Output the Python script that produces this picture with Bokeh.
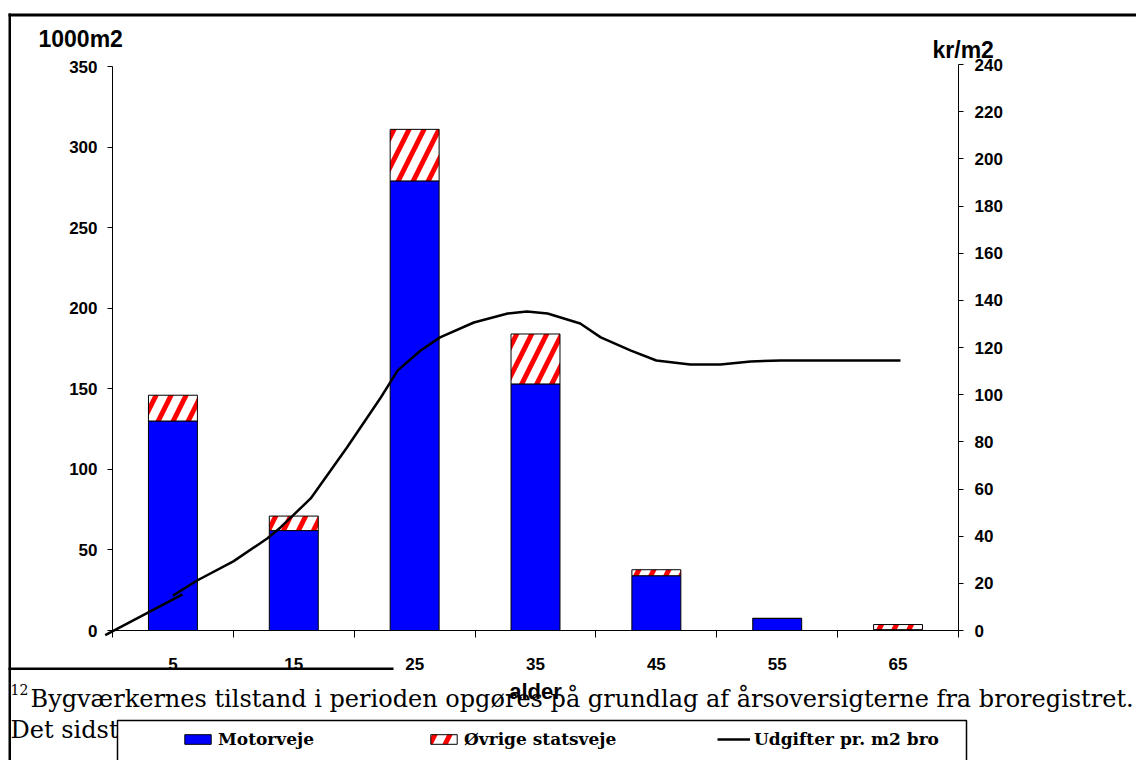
from bokeh.plotting import figure
from bokeh.models import (Range1d, LinearAxis, FixedTicker, Label, BoxAnnotation,
                          Legend, LegendItem, ColumnDataSource)
from bokeh.embed import file_html
from bokeh.resources import INLINE

# ---------------- data ----------------
ages = [5, 15, 25, 35, 45, 55, 65]
age_boundaries = [0, 10, 20, 30, 40, 50, 60, 70]
motorveje = [130, 62, 279, 153, 34, 7.5, 0.5]
ovrige_statsveje = [16, 9, 32, 31, 3.7, 0, 3.2]

left_ticks = [0, 50, 100, 150, 200, 250, 300, 350]
right_ticks = [0, 20, 40, 60, 80, 100, 120, 140, 160, 180, 200, 220, 240]

# cost line (kr/m2), drawn as two overlapping pieces as in the original
line_age_a = [-0.6, 5.8]
line_cost_a = [-2.0, 15.3]
line_age_b = [5.0, 7.0, 10.0, 12.8, 13.9, 16.4, 19.4, 22.2, 23.6, 25.5, 27.1, 29.9,
              32.7, 34.3, 36.0, 38.7, 40.4, 42.9, 45.0, 47.8, 50.3, 52.8, 55.3, 65.2]
line_cost_b = [14.8, 21.2, 29.3, 39.0, 43.7, 56.0, 77.6, 98.8, 110.3, 118.7, 124.3, 130.6,
               134.4, 135.3, 134.4, 130.2, 124.3, 118.7, 114.5, 112.8, 112.8, 114.1, 114.5, 114.5]

series_names = ["Motorveje", "Øvrige statsveje", "Udgifter pr. m2 bro"]
footnote_1 = "Bygværkernes tilstand i perioden opgøres på grundlag af årsoversigterne fra broregistret."
footnote_2 = "Det sidste"

# ---------------- layout ----------------
W, H = 1136, 760
# chart area in canvas px: x 112..958, y 66 (350) .. 630 (0); right axis 240 at y 64
AX_L, AX_R, AX_B = 112, 958, 630
x_per_px = 70 / (AX_R - AX_L)
yl_per_px = 350 / (AX_B - 66)
yr_per_px = 240 / (AX_B - 64)

x_range = Range1d(-AX_L * x_per_px, 70 + (W - AX_R) * x_per_px)
y_range = Range1d(-(H - AX_B) * yl_per_px, AX_B * yl_per_px)

p = figure(width=W, height=H, output_backend="svg", toolbar_location=None,
           x_range=x_range, y_range=y_range,
           min_border=0, min_border_left=0, min_border_right=0,
           min_border_top=0, min_border_bottom=0,
           x_axis_location=None, y_axis_location=None)
p.outline_line_color = None
p.xgrid.visible = False
p.ygrid.visible = False
p.background_fill_color = "white"
p.border_fill_color = "white"
p.extra_y_ranges = {"kr": Range1d(-(H - AX_B) * yr_per_px, AX_B * yr_per_px)}

tick_font = dict(major_label_text_font="Liberation Sans", major_label_text_font_style="bold",
                 major_label_text_font_size="17px", major_label_text_color="black")

yl = LinearAxis(ticker=FixedTicker(ticks=left_ticks), fixed_location=0, bounds=(0, 350),
                major_tick_out=5, major_tick_in=0, minor_tick_out=0, minor_tick_in=0,
                major_label_standoff=10, axis_line_color="black",
                major_tick_line_color="black", **tick_font)
p.add_layout(yl, "left")

yr = LinearAxis(y_range_name="kr", ticker=FixedTicker(ticks=right_ticks), fixed_location=70,
                bounds=(0, 240), major_tick_out=5, major_tick_in=0, minor_tick_out=0,
                minor_tick_in=0, major_label_standoff=11, axis_line_color="black",
                major_tick_line_color="black", **tick_font)
p.add_layout(yr, "right")

xa = LinearAxis(ticker=FixedTicker(ticks=ages, minor_ticks=age_boundaries), fixed_location=0,
                bounds=(0, 70), major_tick_out=0, major_tick_in=0, minor_tick_out=7,
                minor_tick_in=0, major_label_standoff=20, axis_line_color="black",
                minor_tick_line_color="black", axis_label="alder",
                axis_label_text_font="Liberation Sans", axis_label_text_font_style="bold",
                axis_label_text_font_size="22px", axis_label_standoff=6,
                axis_label_text_color="black", **tick_font)
p.add_layout(xa, "below")

# ---------------- bars ----------------
totals = [m + o for m, o in zip(motorveje, ovrige_statsveje)]
src = ColumnDataSource(dict(age=ages, motor=motorveje, total=totals))

r_motor = p.vbar(x="age", bottom=0, top="motor", width=4.05, source=src,
                 fill_color="#0000FF", line_color="black", line_width=1)
r_ovr = p.vbar(x="age", bottom="motor", top="total", width=4.05, source=src,
               fill_color="white", line_color="black", line_width=1,
               hatch_pattern="/", hatch_color="#FF0000", hatch_scale=30, hatch_weight=5)

r_line = p.multi_line(xs=[line_age_a, line_age_b], ys=[line_cost_a, line_cost_b],
                      y_range_name="kr", line_color="black", line_width=2.5)

# ---------------- texts (canvas px -> frame screen units) ----------------
def sx(cx):
    return cx

def sy(cy):
    return H - cy

def lab(text, cx, cy, size, font="Liberation Sans", style="bold", align="left"):
    p.add_layout(Label(x=sx(cx), y=sy(cy), x_units="screen", y_units="screen", text=text,
                       text_font=font, text_font_style=style, text_font_size=size,
                       text_align=align, text_baseline="alphabetic", text_color="black"))

lab("1000m2", 38, 38.5, "23px")
lab("kr/m2", 932, 49, "23px")

lab("12", 10, 689, "14px", font="DejaVu Serif", style="normal")
lab(footnote_1, 30, 698, "24px", font="DejaVu Serif", style="normal")
lab(footnote_2, 10, 729, "24px", font="DejaVu Serif", style="normal")

def box(l, r, t, b, fill="black", line=None, lw=1):
    p.add_layout(BoxAnnotation(left=sx(l), right=sx(r), top=sy(t), bottom=sy(b),
                               left_units="screen", right_units="screen",
                               top_units="screen", bottom_units="screen",
                               fill_color=fill, fill_alpha=1, line_color=line,
                               line_alpha=1, line_width=lw))

# page frame lines
box(8, 1150, 13, 16)
box(8, 10.5, 13, 780)
box(8, 393, 667, 669.5)

# legend box
box(117, 966, 720, 800, fill="white", line="black", lw=1.5)

def mk_leg(r, label, cx):
    leg = Legend(items=[LegendItem(label=label, renderers=[r])],
                 location=(sx(cx), sy(749)), orientation="horizontal",
                 padding=0, margin=0, spacing=0, glyph_width=33, glyph_height=12,
                 label_standoff=4, label_height=20, border_line_color=None,
                 background_fill_alpha=0, label_text_font="DejaVu Serif",
                 label_text_font_style="bold", label_text_font_size="17px",
                 label_text_color="black")
    p.add_layout(leg, "center")

mk_leg(r_motor, series_names[0], 181)
mk_leg(r_ovr, series_names[1], 427)
mk_leg(r_line, series_names[2], 717)

open("out.html", "w").write(file_html(p, INLINE))
